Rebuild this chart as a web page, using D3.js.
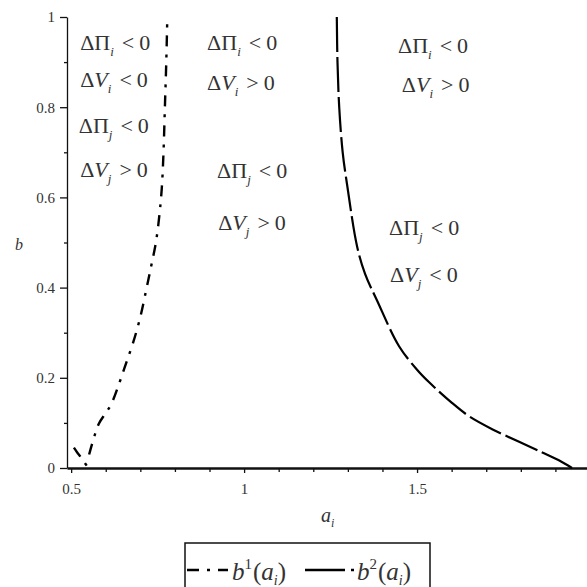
<!DOCTYPE html>
<html>
<head>
<meta charset="utf-8">
<script src="https://cdn.jsdelivr.net/npm/d3@7"></script>
<style>
  body { margin: 0; background: #fff; }
  svg { display: block; }
</style>
</head>
<body>
<div id="chart"></div>
<script>
// curve b1(a_i), dash-dot (two short branches near the bottom)
var b1Low = [[0.508, 0.045], [0.517, 0.035], [0.527, 0.025], [0.537, 0.014], [0.546, 0.004]];
var b1Main = [[0.552, 0.03], [0.565, 0.065], [0.58, 0.098], [0.6, 0.122], [0.615, 0.14],
  [0.64, 0.19], [0.66, 0.235], [0.68, 0.28], [0.70, 0.335], [0.717, 0.395],
  [0.732, 0.45], [0.745, 0.5], [0.755, 0.56], [0.762, 0.62], [0.767, 0.7],
  [0.771, 0.8], [0.775, 0.9], [0.778, 1.0]];

// curve b2(a_i), long dash
var b2 = [[1.268, 1.0], [1.27, 0.9], [1.275, 0.8], [1.285, 0.7], [1.298, 0.627],
  [1.327, 0.49], [1.35, 0.43], [1.384, 0.372], [1.448, 0.27], [1.5, 0.218],
  [1.535, 0.19], [1.6, 0.145], [1.65, 0.115], [1.72, 0.085], [1.795, 0.058],
  [1.86, 0.035], [1.91, 0.017], [1.948, 0.0]];

var xMajor = [0.5, 1, 1.5, 2];
var yMajor = [0, 0.2, 0.4, 0.6, 0.8, 1];
var xMinor = [0.6, 0.7, 0.8, 0.9, 1.1, 1.2, 1.3, 1.4, 1.6, 1.7, 1.8, 1.9];
var yMinor = [0.1, 0.3, 0.5, 0.7, 0.9];

// region notes: [a, b, symbol, subscript, relation]
var notes = [
  [0.526, 0.927, "Π", "i", "<"], [0.526, 0.845, "V", "i", "<"],
  [0.522, 0.743, "Π", "j", "<"], [0.526, 0.645, "V", "j", ">"],
  [0.893, 0.927, "Π", "i", "<"], [0.893, 0.838, "V", "i", ">"],
  [0.922, 0.643, "Π", "j", "<"], [0.925, 0.528, "V", "j", ">"],
  [1.445, 0.92, "Π", "i", "<"], [1.456, 0.834, "V", "i", ">"],
  [1.419, 0.517, "Π", "j", "<"], [1.422, 0.412, "V", "j", "<"]
];

var serif = "'Liberation Serif', 'Times New Roman', serif";

var svg = d3.select("#chart").append("svg")
  .attr("width", 587)
  .attr("height", 587);

var x = d3.scaleLinear().domain([0.488, 2]).range([67, 590]);
var y = d3.scaleLinear().domain([0, 1]).range([468, 17]);

// axes
svg.append("g")
  .attr("transform", "translate(67,0)")
  .call(d3.axisLeft(y).tickValues(yMajor).tickFormat(d3.format("")).tickSize(7).tickSizeOuter(0).tickPadding(5));
var xAxis = svg.append("g")
  .attr("transform", "translate(0,468)")
  .call(d3.axisBottom(x).tickValues(xMajor).tickFormat(d3.format("")).tickSize(5).tickSizeOuter(0).tickPadding(10));

svg.append("g").attr("transform", "translate(67,0)")
  .call(d3.axisLeft(y).tickValues(yMinor).tickFormat("").tickSize(3).tickSizeOuter(0))
  .select(".domain").remove();
svg.append("g").attr("transform", "translate(0,468)")
  .call(d3.axisBottom(x).tickValues(xMinor).tickFormat("").tickSize(4).tickSizeOuter(0))
  .select(".domain").remove();

svg.selectAll(".domain, .tick line").attr("stroke", "#111").attr("stroke-width", 1.3);
xAxis.select(".domain").attr("stroke-width", 2.4);
svg.selectAll(".tick text")
  .style("font-family", serif)
  .attr("font-size", 15)
  .attr("fill", "#333");

// axis titles
svg.append("text").attr("x", 19).attr("y", 250)
  .attr("text-anchor", "middle").attr("font-size", 16).attr("font-style", "italic").text("b");
var at = svg.append("text").attr("x", 321).attr("y", 522).attr("font-size", 20);
at.append("tspan").attr("font-style", "italic").text("a");
at.append("tspan").attr("font-style", "italic").attr("font-size", 12).attr("dy", 5).text("i");

// curves
var line = d3.line().curve(d3.curveCatmullRom).x(d => x(d[0])).y(d => y(d[1]));
var dashDot = "11,8,3,8";
var longDash = "35,5";

[b1Low, b1Main].forEach(function(seg) {
  svg.append("path").datum(seg)
    .attr("d", line)
    .attr("fill", "none")
    .attr("stroke", "#000")
    .attr("stroke-width", 2.4)
    .attr("stroke-dasharray", dashDot);
});

svg.append("path").datum(b2)
  .attr("d", line)
  .attr("fill", "none")
  .attr("stroke", "#000")
  .attr("stroke-width", 2.2)
  .attr("stroke-dasharray", longDash);

// region notes
notes.forEach(function(n) {
  var t = svg.append("text")
    .attr("x", x(n[0]))
    .attr("y", y(n[1]))
    .attr("font-size", 22);
  t.append("tspan").text("Δ");
  t.append("tspan").attr("font-style", n[2] == "V" ? "italic" : "normal").text(n[2]);
  t.append("tspan").attr("font-style", "italic").attr("font-size", 13).attr("dy", 6).text(n[3]);
  t.append("tspan").attr("dy", -6).attr("dx", 8).text(n[4]);
  t.append("tspan").attr("dx", 5).text("0");
});

// legend
var leg = svg.append("g");
leg.append("rect")
  .attr("x", 185).attr("y", 543).attr("width", 245).attr("height", 60)
  .attr("fill", "none").attr("stroke", "#111").attr("stroke-width", 1.5);
leg.append("line").attr("x1", 187).attr("x2", 228).attr("y1", 570).attr("y2", 570)
  .attr("stroke", "#000").attr("stroke-width", 2.4).attr("stroke-dasharray", "12,8,3,8");
leg.append("line").attr("x1", 305).attr("x2", 354).attr("y1", 570).attr("y2", 570)
  .attr("stroke", "#000").attr("stroke-width", 2.4).attr("stroke-dasharray", "40,6,3,6");

function legLabel(px, sup) {
  var t = leg.append("text").attr("x", px).attr("y", 580).attr("font-size", 25);
  t.append("tspan").attr("font-style", "italic").text("b");
  t.append("tspan").attr("font-size", 15).attr("dy", -11).text(sup);
  t.append("tspan").attr("dy", 11).attr("dx", 1).text("(");
  t.append("tspan").attr("font-style", "italic").text("a");
  t.append("tspan").attr("font-style", "italic").attr("font-size", 14).attr("dy", 5).text("i");
  t.append("tspan").attr("dy", -5).text(")");
}
legLabel(232, "1");
legLabel(357, "2");

// serif font everywhere, as in the reference
svg.selectAll("text").style("font-family", serif).attr("fill", "#333");
</script>
</body>
</html>
